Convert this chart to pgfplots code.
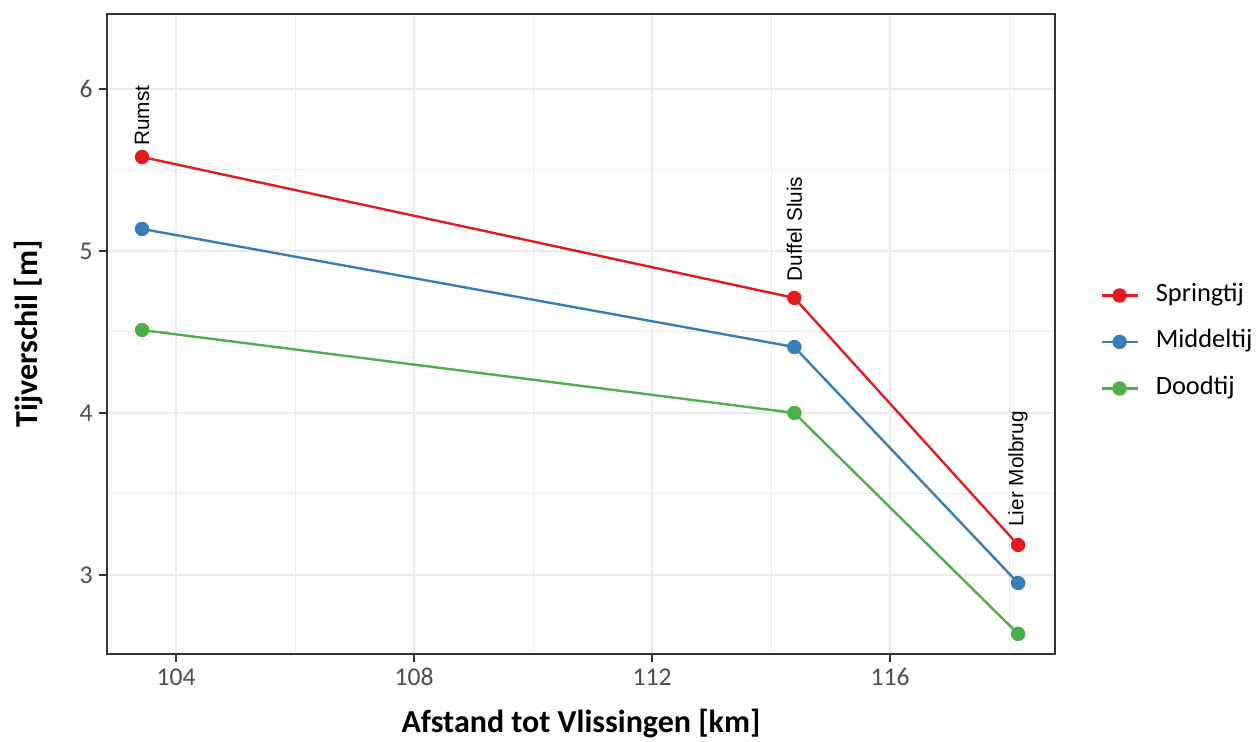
\documentclass[border=0pt]{standalone}
\usepackage{pgfplots}
\pgfplotsset{compat=1.18}
\usepackage{fontspec}
\setmainfont{Carlito}
\newfontfamily\labelfont{Liberation Sans}
\definecolor{sred}{HTML}{E41A1C}
\definecolor{sblue}{HTML}{377EB8}
\definecolor{sgreen}{HTML}{4DAF4A}
\definecolor{gridc}{HTML}{EBEBEB}
\definecolor{grey20}{HTML}{333333}
\definecolor{grey30}{HTML}{4D4D4D}
\begin{document}
\begin{tikzpicture}
\begin{axis}[
  at={(0,0)}, anchor=south west,
  scale only axis, width=474pt, height=320pt,
  xmin=102.84, xmax=118.77, ymin=2.512, ymax=6.463,
  xtick={104,108,112,116}, ytick={3,4,5,6},
  minor xtick={102,106,110,114,118}, minor ytick={2.5,3.5,4.5,5.5,6.5},
  grid=both,
  major grid style={gridc, line width=1pt},
  minor grid style={gridc, line width=0.5pt},
  axis line style={grey20, line width=0.75pt},
  tick align=outside, tick pos=left,
  major tick length=3.85pt, minor tick length=0pt,
  major tick style={grey20, line width=1pt},
  /pgf/number format/assume math mode=true,
  ticklabel style={font=\fontsize{12.8}{14}\selectfont, text=grey30},
  xticklabel style={inner sep=0pt, yshift=-3.2pt},
  yticklabel style={inner sep=0pt, xshift=-3.2pt},
  xlabel={\textbf{Afstand tot Vlissingen [km]}},
  ylabel={\textbf{Tijverschil [m]}},
  label style={font=\fontsize{16}{19}\selectfont},
  xlabel style={at={(axis description cs:0.5,-0.1094)}, anchor=center},
  ylabel style={at={(axis description cs:-0.0833,0.5)}, anchor=center},
  legend style={draw=none, fill=none, at={(axis description cs:1,0.5)}, anchor=west,
    xshift=22.5pt, yshift=-4pt, inner sep=0pt, column sep=8.5pt, row sep=11.25pt,
    font=\fontsize{13.2}{14}\selectfont,
    nodes={inner sep=0pt, text height=9pt, text depth=3pt}},
  legend cell align=left,
  legend image code/.code={\draw[mark repeat=2,mark phase=2,#1] plot coordinates {(0pt,0pt)(9pt,0pt)(18pt,0pt)};},
]
\addplot[sred, line width=1.2pt, mark=*, mark size=3pt, mark options={solid, fill=sred, draw=sred}]
  coordinates {(103.43,5.58)(114.39,4.71)(118.15,3.185)};
\addlegendentry{Springtij}
\addplot[sblue, line width=1.2pt, mark=*, mark size=3pt, mark options={solid, fill=sblue, draw=sblue}]
  coordinates {(103.43,5.136)(114.39,4.407)(118.15,2.95)};
\addlegendentry{Middeltij}
\addplot[sgreen, line width=1.2pt, mark=*, mark size=3pt, mark options={solid, fill=sgreen, draw=sgreen}]
  coordinates {(103.43,4.512)(114.39,4.0)(118.15,2.636)};
\addlegendentry{Doodtij}
\node[rotate=90, anchor=west, inner sep=0pt, font=\labelfont\fontsize{10.4}{12}\selectfont] at (axis cs:103.43,5.648) {Rumst};
\node[rotate=90, anchor=west, inner sep=0pt, font=\labelfont\fontsize{10.4}{12}\selectfont] at (axis cs:114.39,4.809) {Duffel Sluis};
\node[rotate=90, anchor=west, inner sep=0pt, font=\labelfont\fontsize{10.4}{12}\selectfont] at (axis cs:118.15,3.296) {Lier Molbrug};
\end{axis}
\pgfresetboundingbox
\useasboundingbox (-53.5pt,-44pt) rectangle (574.5pt,327pt);
\end{tikzpicture}
\end{document}
